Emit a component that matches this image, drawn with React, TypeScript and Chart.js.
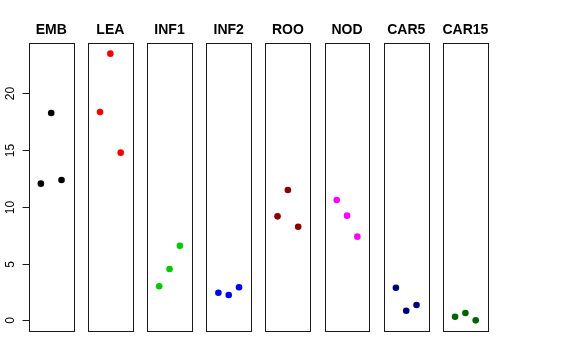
import React, { useEffect, useRef } from "react";
import { Chart, registerables } from "chart.js";

Chart.register(...registerables);

const panelNames = ["EMB", "LEA", "INF1", "INF2", "ROO", "NOD", "CAR5", "CAR15"];
const panelColors = ["#000000", "#ff0000", "#00cd00", "#0000ff", "#8b0000", "#ff00ff", "#000080", "#006400"];
const xPositions = [1, 2, 3];
const embValues = [12.04, 18.26, 12.36];
const leaValues = [18.35, 23.49, 14.77];
const inf1Values = [3.0, 4.52, 6.57];
const inf2Values = [2.43, 2.23, 2.91];
const rooValues = [9.16, 11.48, 8.25];
const nodValues = [10.6, 9.22, 7.37];
const car5Values = [2.87, 0.85, 1.35];
const car15Values = [0.32, 0.64, 0.0];
const panelValues = [embValues, leaValues, inf1Values, inf2Values, rooValues, nodValues, car5Values, car15Values];
const yTicks = [0, 5, 10, 15, 20];

const W = 576;
const H = 360;
const PANEL_LEFT0 = 28.8;
const PANEL_STEP = 59.17;
const PANEL_W = 44.8;
const PANEL_TOP = 43;
const PANEL_BOTTOM = 331;
const Y_MIN = -0.94;
const Y_MAX = 24.43;
const X_MIN = -0.17;
const X_MAX = 4.17;

function Panel({ index }: { index: number }) {
  const ref = useRef<HTMLCanvasElement | null>(null);
  useEffect(() => {
    const canvas = ref.current;
    if (!canvas) return;
    const left = PANEL_LEFT0 + PANEL_STEP * index;
    const name = panelNames[index];
    const color = panelColors[index];
    const vals = panelValues[index];
    const framePlugin = {
      id: "frame" + index,
      afterDraw(chart: any) {
        const ctx = chart.ctx;
        const a = chart.chartArea;
        ctx.save();
        ctx.strokeStyle = "#1a1a1a";
        ctx.lineWidth = 1;
        const l = Math.round(a.left) + 0.5;
        const t = Math.round(a.top) + 0.5;
        const r = Math.round(a.right) + 0.5;
        const b = Math.round(a.bottom) + 0.5;
        ctx.strokeRect(l, t, r - l, b - t);
        ctx.fillStyle = "#000";
        ctx.font = 'bold 14px "Liberation Sans", Arial, sans-serif';
        ctx.textAlign = "center";
        ctx.textBaseline = "alphabetic";
        ctx.fillText(name, (a.left + a.right) / 2, 34);
        if (index === 0) {
          const ys = chart.scales.y;
          ctx.font = '12px "Liberation Sans", Arial, sans-serif';
          for (const v of yTicks) {
            const py = Math.round(ys.getPixelForValue(v)) + 0.5;
            ctx.beginPath();
            ctx.moveTo(l - 7, py);
            ctx.lineTo(l, py);
            ctx.stroke();
            ctx.save();
            ctx.translate(13.5, py);
            ctx.rotate(-Math.PI / 2);
            ctx.textAlign = "center";
            ctx.textBaseline = "alphabetic";
            ctx.fillText(String(v), 0, 0);
            ctx.restore();
          }
        }
        ctx.restore();
      },
    };
    const chart = new Chart(canvas, {
      type: "scatter",
      data: {
        datasets: [
          {
            data: xPositions.map((x, j) => ({ x, y: vals[j] })),
            backgroundColor: color,
            borderColor: color,
            pointRadius: 3.3,
            pointBorderWidth: 0,
          },
        ],
      },
      options: {
        responsive: false,
        animation: false,
        events: [],
        layout: {
          padding: {
            left: left,
            right: W - (left + PANEL_W),
            top: PANEL_TOP,
            bottom: H - PANEL_BOTTOM,
          },
        },
        plugins: { legend: { display: false }, tooltip: { enabled: false }, title: { display: false } },
        scales: {
          x: { type: "linear", display: false, min: X_MIN, max: X_MAX },
          y: { type: "linear", display: false, min: Y_MIN, max: Y_MAX },
        },
      },
      plugins: [framePlugin],
    } as any);
    return () => chart.destroy();
  }, [index]);
  return (
    <canvas
      ref={ref}
      width={W}
      height={H}
      style={{ position: "absolute", left: 0, top: 0, width: W, height: H }}
    />
  );
}

export default function App() {
  useEffect(() => {
    document.body.style.margin = "0";
  }, []);
  return (
    <div style={{ position: "relative", width: W, height: H, background: "#fff" }}>
      {panelNames.map((_, i) => (
        <Panel key={i} index={i} />
      ))}
    </div>
  );
}
